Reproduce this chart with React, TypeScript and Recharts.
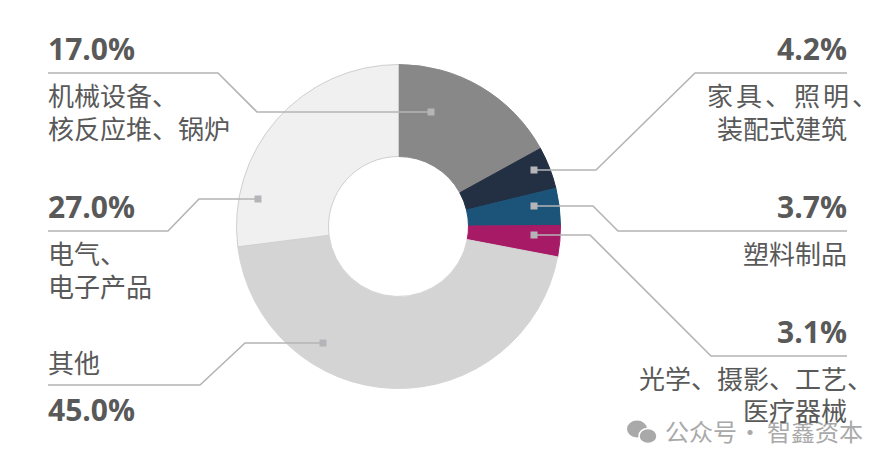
import { Cell, Pie, PieChart } from 'recharts'

const names = ['机械设备', '家具照明', '塑料制品', '光学医疗', '其他', '电气电子']
const shares = [17.0, 4.2, 3.7, 3.1, 45.0, 27.0]
const colors = ['#888888', '#232f42', '#1c5479', '#a61a66', '#d4d4d4', '#f0f0f0']
const edges = ['#888888', '#232f42', '#1c5479', '#a61a66', '#d4d4d4', '#cfcfcf']
const pctLabels = ['17.0%', '4.2%', '3.7%', '3.1%', '45.0%', '27.0%']
const data = names.map((name, i) => ({ name, value: shares[i] }))

const GREY = '#595959'
const LINE = '#b4b4b4'
const MARK = '#a9a9a9'

// leader line and caption layout, one per slice
const leaders = [
  { pts: '48,73 218,73 257,112 431,112', dot: [431, 112], pct: [48, 60, 'start'], rows: [['机械设备、', 48, 106], ['核反应堆、锅炉', 48, 139]] },
  { pts: '534,170 596,170 695,73 847,73', dot: [534, 170], pct: [847, 60, 'end'], rows: [['家具、照明、', 707, 106, 3], ['装配式建筑', 717, 139]] },
  { pts: '534,206 593,206 618,231 847,231', dot: [534, 206], pct: [847, 218, 'end'], rows: [['塑料制品', 743, 264]] },
  { pts: '534,235 590,235 711,356 847,356', dot: [534, 235], pct: [847, 343, 'end'], rows: [['光学、摄影、工艺、', 639, 389], ['医疗器械', 743, 421]] },
  { pts: '48,385 200,385 245,343 323,343', dot: [323, 343], pct: [48, 421, 'start'], rows: [['其他', 48, 373]] },
  { pts: '48,231 168,231 199,199 258,199', dot: [258, 199], pct: [48, 218, 'start'], rows: [['电气、', 48, 264], ['电子产品', 48, 297]] },
] as any[]

function renderLeader({ index }: any) {
  const l = leaders[index]
  return (
    <g key={index}>
      <polyline points={l.pts} fill="none" stroke={LINE} strokeWidth={1.6} />
      <rect x={l.dot[0] - 3.5} y={l.dot[1] - 3.5} width={7} height={7} fill="#b4b5b8" />
      <text x={l.pct[0]} y={l.pct[1]} textAnchor={l.pct[2]} fontFamily="'Open Sans', sans-serif" fontWeight={700} fontSize={30} fill={GREY}>
        {pctLabels[index]}
      </text>
      {l.rows.map((r: any[], j: number) => (
        <text key={j} x={r[1]} y={r[2]} fontFamily="'Noto Sans CJK SC', sans-serif" fontSize={26} letterSpacing={r[3] || 0} fill={GREY}>
          {r[0]}
        </text>
      ))}
    </g>
  )
}

export default function App() {
  return (
    <div style={{ position: 'absolute', left: 0, top: 0, width: 893, height: 467, background: '#fff' }}>
      <PieChart width={893} height={467} margin={{ top: 0, right: 0, bottom: 0, left: 0 }}>
        <Pie
          data={data}
          dataKey="value"
          cx={398.5}
          cy={226.5}
          innerRadius={70}
          outerRadius={162}
          startAngle={90}
          endAngle={-270}
          strokeWidth={1}
          label={renderLeader}
          labelLine={false}
          isAnimationActive={false}
        >
          {data.map((d, i) => (
            <Cell key={d.name} fill={colors[i]} stroke={edges[i]} />
          ))}
        </Pie>
        <g>
          <ellipse cx={637} cy={429} rx={10} ry={8.5} fill={MARK} />
          <ellipse cx={648} cy={436} rx={9} ry={7.5} fill={MARK} stroke="#fff" strokeWidth={1.5} />
          <text x={665} y={441} fontFamily="'Noto Sans CJK SC', sans-serif" fontSize={24} fill={MARK}>公众号</text>
          <text x={738} y={441} fontFamily="'Noto Sans CJK SC', sans-serif" fontSize={24} fill={MARK}>·</text>
          <text x={767} y={441} fontFamily="'Noto Sans CJK SC', sans-serif" fontSize={24} fill={MARK}>智鑫资本</text>
        </g>
      </PieChart>
    </div>
  )
}
